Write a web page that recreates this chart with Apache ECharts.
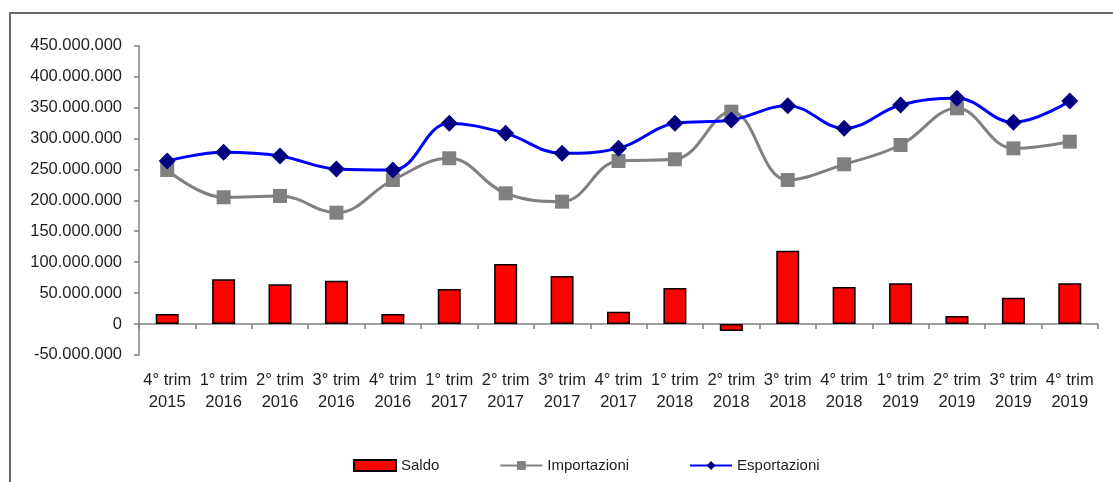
<!DOCTYPE html>
<html>
<head>
<meta charset="utf-8">
<script src="https://cdn.jsdelivr.net/npm/echarts@6/dist/echarts.min.js"></script>
<style>
  html, body { margin: 0; padding: 0; background: #fff; }
  #chart { width: 1113px; height: 482px; }
</style>
</head>
<body>
<div id="chart"></div>
<script>
// Quarterly trade: balance (bars), imports and exports (smoothed lines)
const categories = [
  '4° trim\n2015', '1° trim\n2016', '2° trim\n2016', '3° trim\n2016', '4° trim\n2016',
  '1° trim\n2017', '2° trim\n2017', '3° trim\n2017', '4° trim\n2017',
  '1° trim\n2018', '2° trim\n2018', '3° trim\n2018', '4° trim\n2018',
  '1° trim\n2019', '2° trim\n2019', '3° trim\n2019', '4° trim\n2019'
];

const saldo = [
  16200000, 72300000, 64200000, 70000000, 16200000,
  56600000, 97000000, 77600000, 19900000,
  58200000, -11300000, 118600000, 59800000,
  65800000, 12900000, 42600000, 65800000
];

const importazioni = [
  249000000, 204900000, 207000000, 180000000, 232800000,
  268000000, 211300000, 197800000, 263600000,
  266300000, 343300000, 232800000, 258200000,
  289400000, 348800000, 284000000, 294800000
];

const esportazioni = [
  263600000, 277600000, 271700000, 250600000, 249000000,
  324500000, 308300000, 276000000, 284000000,
  324500000, 329900000, 353000000, 316400000,
  354000000, 365000000, 326100000, 360600000
];

const yMin = -50000000;
const yMax = 450000000;
const yStep = 50000000;

const FONT = "'Liberation Sans', Arial, sans-serif";

function formatIt(v) {
  const s = Math.abs(v).toFixed(0).replace(/\B(?=(\d{3})+(?!\d))/g, '.');
  return (v < 0 ? '-' : '') + s;
}

const chart = echarts.init(document.getElementById('chart'), null, { renderer: 'canvas' });

chart.setOption({
  backgroundColor: '#ffffff',
  animation: false,
  graphic: [{
    type: 'rect',
    shape: { x: 10, y: 13, width: 1200, height: 600 },
    style: { fill: 'none', stroke: '#6a6a6a', lineWidth: 2 },
    silent: true,
    z: -10
  }],
  grid: { left: 139, right: 15, top: 45.7, height: 309.2, containLabel: false },
  legend: {
    data: [
      { name: 'Saldo', icon: 'rect' },
      { name: 'Importazioni' },
      { name: 'Esportazioni' }
    ],
    left: 353,
    top: 458,
    itemWidth: 42,
    itemHeight: 11,
    itemGap: 60,
    padding: 0,
    textStyle: { fontFamily: FONT, fontSize: 15, color: '#1e1e1e' }
  },
  xAxis: [{
    type: 'category',
    data: categories,
    position: 'bottom',
    boundaryGap: true,
    axisLine: { onZero: true, lineStyle: { color: '#808080', width: 1.5 } },
    axisTick: { show: true, length: 5, lineStyle: { color: '#808080', width: 1.5 } },
    axisLabel: { show: false },
    splitLine: { show: false }
  }, {
    type: 'category',
    data: categories,
    position: 'bottom',
    boundaryGap: true,
    axisLine: { show: false, onZero: false },
    axisTick: { show: false },
    axisLabel: {
      show: true,
      interval: 0,
      margin: 15,
      fontFamily: FONT,
      fontSize: 16.5,
      lineHeight: 22,
      color: '#1e1e1e'
    },
    splitLine: { show: false }
  }],
  yAxis: {
    type: 'value',
    min: yMin,
    max: yMax,
    interval: yStep,
    axisLine: { show: true, lineStyle: { color: '#808080', width: 1.5 } },
    axisTick: { show: true, length: 5, lineStyle: { color: '#808080', width: 1.5 } },
    axisLabel: {
      margin: 17,
      fontFamily: FONT,
      fontSize: 16.5,
      color: '#1e1e1e',
      formatter: formatIt
    },
    splitLine: { show: false }
  },
  series: [{
    name: 'Saldo',
    type: 'bar',
    xAxisIndex: 0,
    data: saldo,
    barWidth: 23,
    itemStyle: { color: '#ff0000', borderColor: '#000000', borderWidth: 1.5 }
  }, {
    name: 'Importazioni',
    type: 'line',
    xAxisIndex: 0,
    data: importazioni,
    smooth: 0.4,
    symbol: 'rect',
    symbolSize: 14,
    lineStyle: { color: '#808080', width: 3 },
    itemStyle: { color: '#808080' }
  }, {
    name: 'Esportazioni',
    type: 'line',
    xAxisIndex: 0,
    data: esportazioni,
    smooth: 0.4,
    symbol: 'diamond',
    symbolSize: 17,
    lineStyle: { color: '#0000ff', width: 3 },
    itemStyle: { color: '#000080' }
  }]
});
</script>
</body>
</html>
